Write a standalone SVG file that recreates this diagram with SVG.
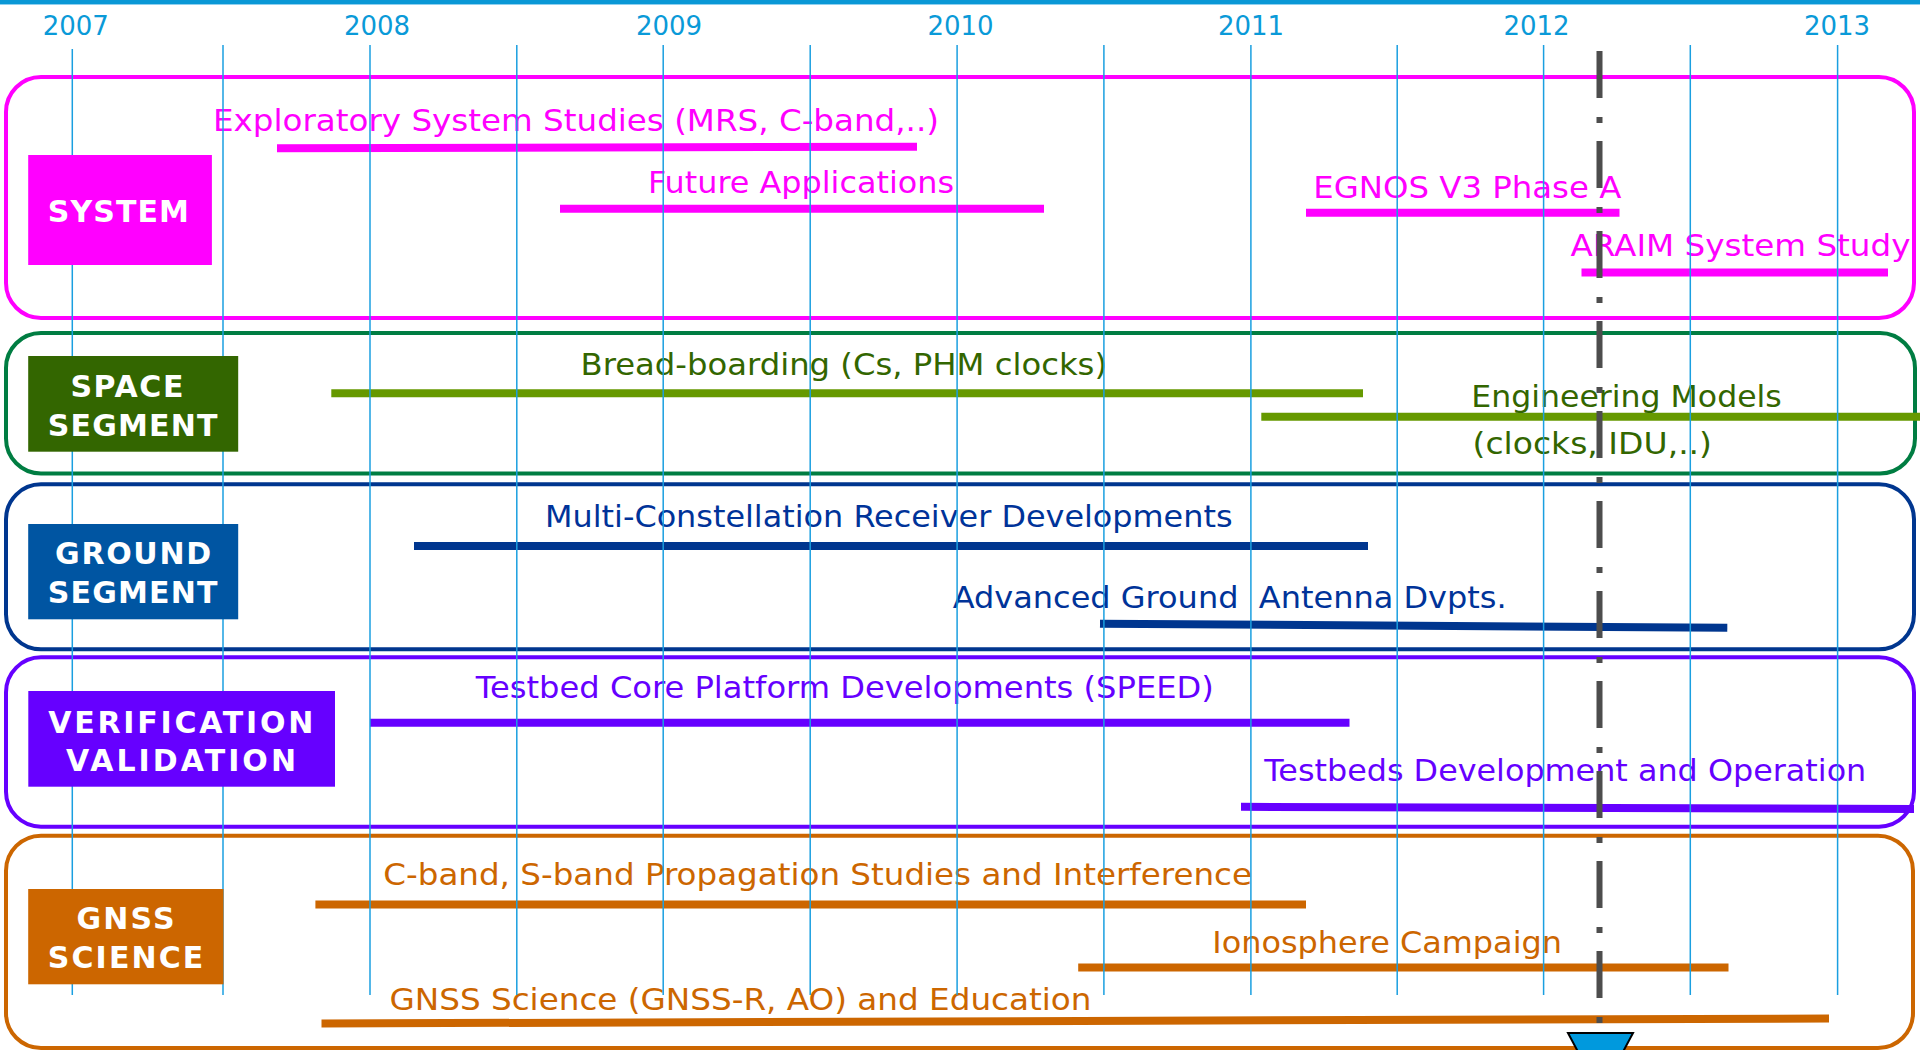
<svg xmlns="http://www.w3.org/2000/svg" width="1920" height="1050" viewBox="0 0 1920 1050">
<style>
.yr{font-family:"DejaVu Sans","Verdana",sans-serif;font-size:26px;fill:#0a9ad8;text-anchor:middle}
.t{font-family:"DejaVu Sans","Verdana",sans-serif;font-size:31px}
.lb{font-family:"DejaVu Sans","Verdana",sans-serif;font-size:30px;font-weight:bold;fill:#ffffff}
.panel{fill:none;stroke-width:4}
.bar{stroke-width:8;stroke-linecap:butt;fill:none}
.grid line{stroke:#1a9fe0;stroke-width:1.5}
.sys{fill:#ff00ff}.sysb{stroke:#ff00ff}
.spc{fill:#336600}.spcb{stroke:#669900}
.gnd{fill:#003399}.gndb{stroke:#00368f}
.ver{fill:#6600ff}.verb{stroke:#6600ff}
.sci{fill:#cc6600}.scib{stroke:#cc6600}
</style>
<rect x="0" y="0" width="1920" height="1050" fill="#ffffff"/>
<rect x="0" y="0" width="1920" height="4" fill="#0a98d6"/>
<line x1="0" y1="4.5" x2="1920" y2="4.5" stroke="#8fd0ef" stroke-width="1"/>
<g id="years">
<text class="yr" x="75.8" y="35">2007</text>
<text class="yr" x="377" y="35">2008</text>
<text class="yr" x="669" y="35">2009</text>
<text class="yr" x="960.5" y="35">2010</text>
<text class="yr" x="1251" y="35">2011</text>
<text class="yr" x="1536.5" y="35">2012</text>
<text class="yr" x="1837" y="35">2013</text>
</g>
<g id="system">
<rect class="panel" x="6" y="77" width="1908" height="241" rx="35" ry="35" stroke="#ff00ff"/>
<line class="bar sysb" x1="277" y1="148.2" x2="917" y2="146.7"/>
<line class="bar sysb" x1="560" y1="208.8" x2="1044" y2="208.8"/>
<line class="bar sysb" x1="1306" y1="212.8" x2="1619.5" y2="212.8"/>
<line class="bar sysb" x1="1581.5" y1="272.5" x2="1888" y2="272.5"/>
<text class="t sys" x="213" y="130.5" textLength="726" lengthAdjust="spacingAndGlyphs">Exploratory System Studies (MRS, C-band,..)</text>
<text class="t sys" x="648" y="192.7" textLength="306" lengthAdjust="spacingAndGlyphs">Future Applications</text>
<text class="t sys" x="1313.3" y="197.7" textLength="308" lengthAdjust="spacingAndGlyphs">EGNOS V3 Phase A</text>
<text class="t sys" x="1570.5" y="255.7" textLength="340" lengthAdjust="spacingAndGlyphs">ARAIM System Study</text>
</g>
<g id="space-segment">
<rect class="panel" x="6" y="333" width="1909" height="140.5" rx="35" ry="35" stroke="#007d42"/>
<line class="bar spcb" x1="331.3" y1="393.3" x2="1363" y2="393.3"/>
<line class="bar spcb" x1="1261.3" y1="416.7" x2="1920" y2="416.7"/>
<text class="t spc" x="580.5" y="375" textLength="526.5" lengthAdjust="spacingAndGlyphs">Bread-boarding (Cs, PHM clocks)</text>
<text class="t spc" x="1471.3" y="407.3" textLength="310.5" lengthAdjust="spacingAndGlyphs">Engineering Models</text>
<text class="t spc" x="1472.5" y="454" textLength="239.5" lengthAdjust="spacingAndGlyphs">(clocks, IDU,..)</text>
</g>
<g id="ground-segment">
<rect class="panel" x="6" y="484.3" width="1908" height="165" rx="35" ry="35" stroke="#00368f"/>
<line class="bar gndb" x1="414" y1="546" x2="1368" y2="546"/>
<line class="bar gndb" x1="1100" y1="623.7" x2="1727.3" y2="627.7"/>
<text class="t gnd" x="545" y="526.7" textLength="687.5" lengthAdjust="spacingAndGlyphs">Multi-Constellation Receiver Developments</text>
<text class="t gnd" x="952.7" y="608.3" textLength="554" lengthAdjust="spacingAndGlyphs" xml:space="preserve">Advanced Ground  Antenna Dvpts.</text>
</g>
<g id="verification-validation">
<rect class="panel" x="6" y="657.3" width="1908" height="169.4" rx="35" ry="35" stroke="#6600ff"/>
<line class="bar verb" x1="370" y1="722.8" x2="1349.5" y2="722.8"/>
<line class="bar verb" x1="1241" y1="806.8" x2="1914" y2="809"/>
<text class="t ver" x="475.8" y="698.3" textLength="738" lengthAdjust="spacingAndGlyphs">Testbed Core Platform Developments (SPEED)</text>
<text class="t ver" x="1264.3" y="780.7" textLength="602" lengthAdjust="spacingAndGlyphs">Testbeds Development and Operation</text>
</g>
<g id="gnss-science">
<rect class="panel" x="6" y="835.7" width="1907" height="212.3" rx="35" ry="35" stroke="#cc6600"/>
<line class="bar scib" x1="315.4" y1="904.5" x2="1306" y2="904.5"/>
<line class="bar scib" x1="1078.2" y1="967.5" x2="1728.5" y2="967.5"/>
<line class="bar scib" x1="321.5" y1="1023.5" x2="1829" y2="1018.5"/>
<text class="t sci" x="383.3" y="885" textLength="868.7" lengthAdjust="spacingAndGlyphs">C-band, S-band Propagation Studies and Interference</text>
<text class="t sci" x="1212.3" y="953.3" textLength="349.7" lengthAdjust="spacingAndGlyphs">Ionosphere Campaign</text>
<text class="t sci" x="389.5" y="1010" textLength="702" lengthAdjust="spacingAndGlyphs">GNSS Science (GNSS-R, AO) and Education</text>
</g>
<g id="connectors" class="grid">
<line x1="72.3" y1="49" x2="72.3" y2="995"/>
<line x1="223" y1="45" x2="223" y2="995"/>
<line x1="370" y1="45" x2="370" y2="995"/>
<line x1="516.8" y1="45" x2="516.8" y2="995"/>
<line x1="663.2" y1="45" x2="663.2" y2="995"/>
<line x1="810.2" y1="45" x2="810.2" y2="995"/>
<line x1="957.1" y1="45" x2="957.1" y2="995"/>
<line x1="1103.9" y1="45" x2="1103.9" y2="995"/>
<line x1="1250.9" y1="45" x2="1250.9" y2="995"/>
<line x1="1397.2" y1="45" x2="1397.2" y2="995"/>
<line x1="1543.6" y1="45" x2="1543.6" y2="995"/>
<line x1="1690.3" y1="45" x2="1690.3" y2="995"/>
<line x1="1837.6" y1="45" x2="1837.6" y2="995"/>
</g>
<g id="label-system">
<rect x="28.2" y="155" width="183.7" height="110" fill="#ff00ff"/>
<text class="lb" x="47.8" y="221.7" textLength="141">SYSTEM</text>
</g>
<g id="label-space">
<rect x="28.2" y="356" width="210" height="95.7" fill="#336600"/>
<text class="lb" x="70.4" y="396.7" textLength="113">SPACE</text>
<text class="lb" x="47.8" y="435.7" textLength="169.6">SEGMENT</text>
</g>
<g id="label-ground">
<rect x="28.2" y="524" width="210" height="95.3" fill="#0055a2"/>
<text class="lb" x="55.1" y="564.3" textLength="156">GROUND</text>
<text class="lb" x="47.8" y="603.3" textLength="169.6">SEGMENT</text>
</g>
<g id="label-verification">
<rect x="28.3" y="691" width="306.7" height="95.7" fill="#6600ff"/>
<text class="lb" x="48.3" y="733.3" textLength="265">VERIFICATION</text>
<text class="lb" x="66" y="771" textLength="230">VALIDATION</text>
</g>
<g id="label-gnss">
<rect x="28.2" y="889" width="195.3" height="95.3" fill="#cc6600"/>
<text class="lb" x="76.5" y="929.3" textLength="98">GNSS</text>
<text class="lb" x="47.8" y="968.3" textLength="155.5">SCIENCE</text>
</g>
<g id="today-marker">
<line x1="1599.5" y1="51" x2="1599.5" y2="1023" stroke="#4d4d4d" stroke-width="6" stroke-dasharray="47 19 6 18"/>
<polygon points="1568,1033 1633,1033 1600.5,1094" fill="#0099dd" stroke="#000000" stroke-width="2"/>
</g>
</svg>
